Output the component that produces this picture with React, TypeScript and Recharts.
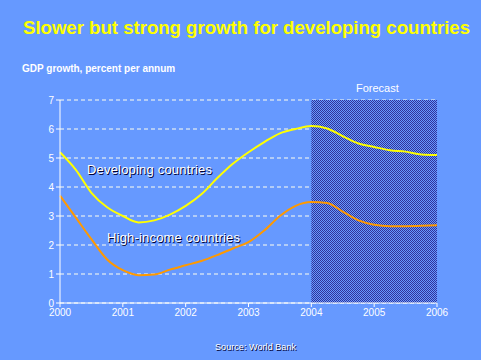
import { LineChart, Line, XAxis, YAxis, CartesianGrid, ReferenceArea } from "recharts";

const years = [
  2000, 2000.25, 2000.5, 2000.75, 2001, 2001.25, 2001.5, 2001.75, 2002, 2002.25, 2002.5, 2002.75,
  2003, 2003.25, 2003.5, 2003.75, 2004, 2004.25, 2004.5, 2004.75, 2005, 2005.25, 2005.5, 2005.75, 2006,
];
const developing = [
  5.2, 4.6, 3.8, 3.3, 3.0, 2.78, 2.85, 3.05, 3.35, 3.75, 4.3, 4.8,
  5.2, 5.55, 5.85, 6.0, 6.1, 6.02, 5.75, 5.5, 5.38, 5.27, 5.22, 5.12, 5.1,
];
const highIncome = [
  3.7, 2.95, 2.2, 1.5, 1.13, 0.96, 0.98, 1.15, 1.3, 1.45, 1.65, 1.88,
  2.1, 2.5, 3.0, 3.35, 3.48, 3.45, 3.15, 2.85, 2.7, 2.65, 2.65, 2.66, 2.68,
];
const xTicks = [2000, 2001, 2002, 2003, 2004, 2005, 2006];
const yTicks = [0, 1, 2, 3, 4, 5, 6, 7];
const forecastStart = 2004;
const forecastEnd = 2006;

const data = years.map((year, i) => ({ year, developing: developing[i], highIncome: highIncome[i] }));

const font = "Arial, 'Liberation Sans', sans-serif";

const ShadowText = ({ x, y, size, width, children }: { x: number; y: number; size: number; width: number; children: string }) => (
  <g fontFamily={font} fontSize={size}>
    <text x={x + 1} y={y + 1} fill="#000033" textLength={width} lengthAdjust="spacing">{children}</text>
    <text x={x} y={y} fill="#ffffff" textLength={width} lengthAdjust="spacing">{children}</text>
  </g>
);

const HatchedArea = (props: any) => {
  const { x, y, width, height } = props;
  return (
    <g>
      <defs>
        <pattern id="checker" width={2} height={2} patternUnits="userSpaceOnUse">
          <rect x={0} y={0} width={2} height={2} fill="#6699ff" />
          <rect x={0} y={0} width={1} height={1} fill="#333399" />
          <rect x={1} y={1} width={1} height={1} fill="#333399" />
        </pattern>
      </defs>
      <rect x={x} y={y} width={width} height={height} fill="url(#checker)" />
    </g>
  );
};

export default function App() {
  return (
    <div style={{ position: "absolute", left: 0, top: 0, width: 481, height: 360, background: "#6699ff" }}>
      <svg width={481} height={360} style={{ position: "absolute", left: 0, top: 0 }}>
        <text
          x={23}
          y={34}
          fill="#ffff00"
          fontFamily={font}
          fontSize={18}
          fontWeight="bold"
          textLength={447}
          lengthAdjust="spacingAndGlyphs"
        >
          Slower but strong growth for developing countries
        </text>
        <text x={22} y={72} fill="#ffffff" fontFamily={font} fontSize={10} fontWeight="bold">
          GDP growth, percent per annum
        </text>
      </svg>
      <div style={{ position: "absolute", left: 0, top: 0 }}>
        <LineChart width={481} height={360} data={data} margin={{ top: 100, right: 44, left: 10, bottom: 27 }}>
          <ReferenceArea
            x1={forecastStart}
            x2={forecastEnd}
            y1={0}
            y2={7}
            shape={HatchedArea}
            ifOverflow="hidden"
          />
          <CartesianGrid vertical={false} stroke="#ffffee" strokeDasharray="4 3" strokeWidth={1} />
          <XAxis
            dataKey="year"
            type="number"
            domain={[2000, 2006]}
            ticks={xTicks}
            stroke="#ffffff"
            tickSize={4}
            tick={{ fill: "#ffffff", fontSize: 10, fontFamily: font }}
            interval={0}
          />
          <YAxis
            type="number"
            domain={[0, 7]}
            ticks={yTicks}
            width={50}
            stroke="#ffffff"
            tickSize={4}
            tick={{ fill: "#ffffff", fontSize: 10, fontFamily: font }}
            interval={0}
          />
          <Line
            type="monotone"
            dataKey="developing"
            stroke="#ffff00"
            strokeWidth={2}
            dot={false}
            isAnimationActive={false}
          />
          <Line
            type="monotone"
            dataKey="highIncome"
            stroke="#ff9900"
            strokeWidth={2}
            dot={false}
            isAnimationActive={false}
          />
        </LineChart>
      </div>
      <svg width={481} height={360} style={{ position: "absolute", left: 0, top: 0, pointerEvents: "none" }}>
        <text x={356} y={92} fill="#ffffff" fontFamily={font} fontSize={11}>Forecast</text>
        <ShadowText x={87} y={174} size={13} width={125}>Developing countries</ShadowText>
        <ShadowText x={107} y={242} size={13} width={133}>High-income countries</ShadowText>
        <ShadowText x={215} y={350} size={9} width={81}>Source: World Bank</ShadowText>
      </svg>
    </div>
  );
}
